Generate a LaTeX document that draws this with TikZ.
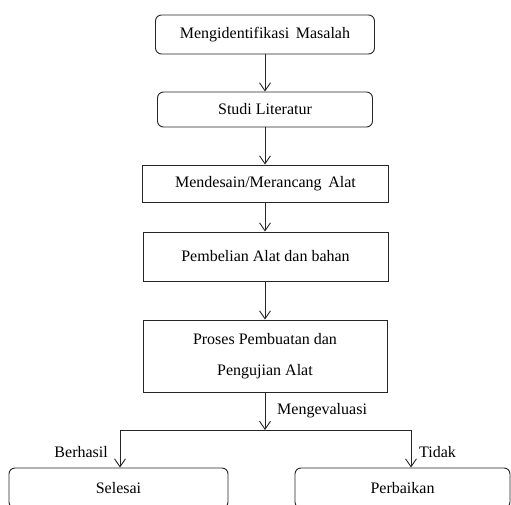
\documentclass[tikz,border=0pt]{standalone}
\usepackage{fontspec}
\setmainfont{Liberation Serif}
\usetikzlibrary{arrows.meta}
\begin{document}
\begin{tikzpicture}[x=1pt,y=-1pt,
  base/.style={draw=black!85,line width=0.9pt,inner sep=0pt,align=center,font=\fontsize{16}{31}\selectfont},
  rbox/.style={base,rounded corners=6pt},
  sbox/.style={base},
  conn/.style={draw=black!85,line width=0.9pt},
  arr/.style={conn,-{Straight Barb[length=8pt,width=11pt,line width=0.9pt]}},
  lbl/.style={font=\fontsize{16}{19}\selectfont,inner sep=0pt}]
\useasboundingbox (0,0) rectangle (511,505);
\clip (0,0) rectangle (511,505);
\node[rbox,minimum width=219pt,minimum height=39pt] (b1) at (265,34.5) {Mengidentifikasi\, Masalah};
\node[rbox,minimum width=215pt,minimum height=35pt] (b2) at (265,109.5) {Studi Literatur};
\node[sbox,minimum width=246pt,minimum height=37pt] (b3) at (265.5,183.5) {Mendesain/Merancang\, Alat};
\node[sbox,minimum width=245pt,minimum height=49pt] (b4) at (265.5,256.5) {Pembelian Alat dan bahan};
\node[sbox,minimum width=244pt,minimum height=72pt] (b5) at (265,356) {Proses Pembuatan dan\\Pengujian Alat};
\node[rbox,minimum width=219pt,minimum height=40pt] (sel) at (118.5,488) {Selesai};
\node[rbox,minimum width=215pt,minimum height=40pt] (per) at (402.5,488) {Perbaikan};
\coordinate (split) at (265,430);
\coordinate (L) at (120,430);
\coordinate (R) at (411,430);
\draw[arr] (b1.south) -- (b1.south |- b2.north);
\draw[arr] (b2.south) -- (b2.south |- b3.north);
\draw[arr] (b2.south |- b3.south) -- (b2.south |- b4.north);
\draw[arr] (b2.south |- b4.south) -- (b2.south |- b5.north);
\draw[arr] (b5.south) -- (split);
\draw[conn] (L) -- (R);
\draw[arr] (L) -- (L |- sel.north);
\draw[arr] (R) -- (R |- per.north);
\node[lbl,anchor=west] (mev) at (277,411) {Mengevaluasi};
\node[lbl,anchor=east] (ber) at (108,452) {Berhasil};
\node[lbl,anchor=west] (tid) at (419,452) {Tidak};
\end{tikzpicture}
\end{document}
